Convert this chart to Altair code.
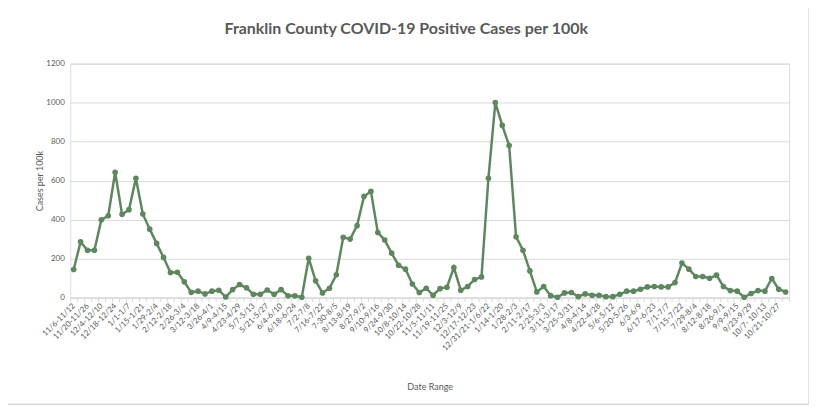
import json
import altair as alt
import pandas as pd

weeks = [
    "11/6-11/12", "11/13-11/19", "11/20-11/26", "11/27-12/3", "12/4-12/10", "12/11-12/17",
    "12/18-12/24", "12/25-12/31", "1/1-1/7", "1/8-1/14", "1/15-1/21", "1/22-1/28",
    "1/29-2/4", "2/5-2/11", "2/12-2/18", "2/19-2/25", "2/26-3/4", "3/5-3/11",
    "3/12-3/18", "3/19-3/25", "3/26-4/1", "4/2-4/8", "4/9-4/15", "4/16-4/22",
    "4/23-4/29", "4/30-5/6", "5/7-5/13", "5/14-5/20", "5/21-5/27", "5/28-6/3",
    "6/4-6/10", "6/11-6/17", "6/18-6/24", "6/25-7/1", "7/2-7/8", "7/9-7/15",
    "7/16-7/22", "7/23-7/29", "7-30-8/5", "8/6-8/12", "8/13-8/19", "8/20-8/26",
    "8/27-9/2", "9/3-9/9", "9/10-9/16", "9/17-9/23", "9/24-9/30", "10/1-10/7",
    "10/8-10/14", "10/15-10/21", "10/22-10/28", "10/29-11/4", "11/5-11/11", "11/12-11/18",
    "11/19-11/25", "11/26-12/2", "12/3-12/9", "12/10-12/16", "12/17-12/23", "12/24-12/30",
    "12/31/21-1/6/22", "1/7-1/13", "1/14-1/20", "1/21-1/27", "1/28-2/3", "2/4-2/10",
    "2/11-2/17", "2/18-2/24", "2/25-3/3", "3/4-3/10", "3/11-3/17", "3/18-3/24",
    "3/25-3/31", "4/1-4/7", "4/8-4/14", "4/15-4/21", "4/22-4/28", "4/29-5/5",
    "5/6-5/12", "5/13-5/19", "5/20-5/26", "5/27-6/2", "6/3-6/9", "6/10-6/16",
    "6/17-6/23", "6/24-6/30", "7/1-7/7", "7/8-7/14", "7/15-7/22", "7/23-7/28",
    "7/29-8/4", "8/5-8/11", "8/12-8/18", "8/19-8/25", "8/26-9/1", "9/2-9/8",
    "9/9-9/15", "9/16-9/22", "9/23-9/29", "9/30-10/6", "10/7- 10/13", "10/14-10/20",
    "10/21-10/27", "10/28-11/3",
]

cases = [
    144, 286, 243, 243, 399, 420, 643, 427, 451, 612, 429, 351,
    278, 206, 129, 130, 81, 27, 33, 19, 33, 38, 3, 41,
    67, 50, 17, 17, 39, 17, 41, 9, 9, 2, 202, 86,
    24, 48, 117, 309, 300, 369, 519, 545, 334, 295, 228, 166,
    146, 70, 26, 48, 12, 46, 53, 154, 38, 57, 93, 106,
    612, 1000, 883, 780, 312, 243, 137, 29, 57, 10, 2, 24,
    26, 5, 19, 12, 12, 5, 5, 17, 33, 33, 43, 55,
    57, 55, 55, 77, 177, 146, 108, 108, 99, 115, 57, 36,
    33, 2, 21, 36, 33, 98, 43, 29,
]

y_ticks = [0, 200, 400, 600, 800, 1000, 1200]
title_text = "Franklin County COVID-19 Positive Cases per 100k"

df = pd.DataFrame({"idx": list(range(len(weeks))), "week": weeks, "cases": cases})

GREEN = "#5f875f"
GREY_TXT = "#595959"
GRID = "#d9d9d9"
FONT = "Lato"

label_expr = "datum.value % 2 == 0 ? " + json.dumps(weeks) + "[datum.value] : ''"

x = alt.X(
    "idx:O",
    scale=alt.Scale(type="band", paddingInner=0, paddingOuter=0),
    axis=alt.Axis(
        title="Date Range",
        labelExpr=label_expr,
        labelAngle=-45,
        labelAlign="right",
        labelBaseline="middle",
        labelFontSize=8,
        labelColor=GREY_TXT,
        labelFont=FONT,
        labelPadding=3,
        labelOverlap=False,
        tickBand="extent",
        ticks=True,
        tickSize=4,
        tickColor=GRID,
        domainColor=GRID,
        grid=False,
        titleFontSize=9,
        titleFontWeight="normal",
        titleColor=GREY_TXT,
        titleFont=FONT,
        titleY=89,
        titleBaseline="middle",
    ),
)

y = alt.Y(
    "cases:Q",
    scale=alt.Scale(domain=[0, 1200], nice=False),
    axis=alt.Axis(
        title="Cases per 100k",
        values=y_ticks,
        format="d",
        domain=False,
        ticks=False,
        grid=True,
        gridColor=GRID,
        gridWidth=1,
        labelFontSize=8,
        labelColor=GREY_TXT,
        labelFont=FONT,
        labelPadding=6,
        titleFontSize=9,
        titleFontWeight="normal",
        titleColor=GREY_TXT,
        titleFont=FONT,
        titleX=-30.5,
        titleY=117.5,
        titleBaseline="middle",
    ),
)

line = alt.Chart(df).mark_line(color=GREEN, strokeWidth=2.5).encode(x=x, y=y)
pts = alt.Chart(df).mark_circle(color=GREEN, size=32, opacity=1).encode(x=x, y=y)

one = pd.DataFrame({"a": [0]})

frame = alt.Chart(one).mark_rect(
    fill=None, stroke=GRID, strokeWidth=1.5
).encode(
    x=alt.value(-80), x2=alt.value(742), y=alt.value(-56.5), y2=alt.value(342)
)

title = alt.Chart(one).mark_text(
    font=FONT, fontSize=16, fontWeight="bold", color=GREY_TXT,
    align="center", baseline="middle",
).encode(
    x=alt.value(337.5), y=alt.value(-35), text=alt.value(title_text)
)

chart = (
    alt.layer(line, pts, frame, title)
    .properties(
        width=722,
        height=235,
        autosize=alt.AutoSizeParams(type="none"),
        padding={"left": 62.5, "top": 55, "right": 20, "bottom": 108},
    )
    .configure_view(stroke=None)
    .configure(background="white")
)

chart.save("out.html", embed_options={"renderer": "svg", "actions": False})
